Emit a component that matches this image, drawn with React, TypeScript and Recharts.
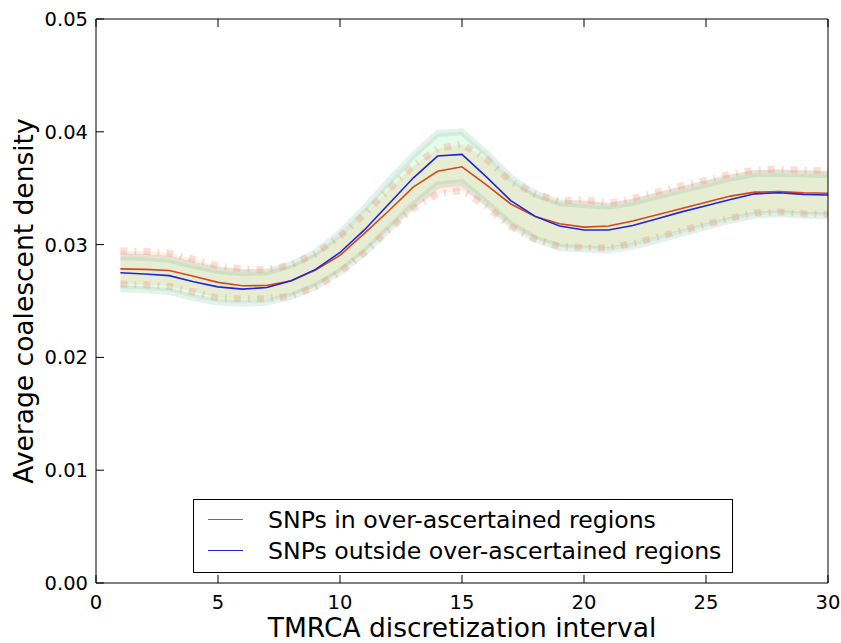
import React from 'react';
import { ComposedChart, Area, Line, XAxis, YAxis, Legend } from 'recharts';

// TMRCA discretization intervals
const intervals = [1, 2, 3, 4, 5, 6, 7, 8, 9, 10, 11, 12, 13, 14, 15, 16, 17, 18, 19, 20, 21, 22, 23, 24, 25, 26, 27, 28, 29, 30];

// SNPs in over-ascertained regions (mean + band)
const overMean = [0.02785, 0.0278, 0.0277, 0.0272, 0.02665, 0.02635, 0.02638, 0.0268, 0.02775, 0.02905, 0.031, 0.0330, 0.0351, 0.0365, 0.0369, 0.0353, 0.0336, 0.0325, 0.03185, 0.03155, 0.03165, 0.0321, 0.03265, 0.0332, 0.03375, 0.0343, 0.03465, 0.0347, 0.0346, 0.03455];
const overLo = [0.0265, 0.02645, 0.0263, 0.0258, 0.02525, 0.0252, 0.0252, 0.02545, 0.02625, 0.02755, 0.0293, 0.0313, 0.0332, 0.0345, 0.0348, 0.0334, 0.0316, 0.0305, 0.02985, 0.02975, 0.0297, 0.0301, 0.03065, 0.03125, 0.0318, 0.03235, 0.0328, 0.0329, 0.03275, 0.0327];
const overHi = [0.02945, 0.0294, 0.02925, 0.0287, 0.0281, 0.02785, 0.0278, 0.0282, 0.0292, 0.03075, 0.0327, 0.0349, 0.037, 0.0385, 0.0389, 0.0376, 0.0356, 0.0345, 0.03385, 0.034, 0.03365, 0.0341, 0.03465, 0.0352, 0.0357, 0.03625, 0.0366, 0.0367, 0.0366, 0.03655];

// SNPs outside over-ascertained regions (mean + band)
const outMean = [0.0275, 0.0274, 0.02725, 0.0267, 0.02625, 0.02605, 0.0262, 0.0268, 0.0278, 0.0293, 0.0313, 0.0336, 0.0359, 0.03785, 0.038, 0.036, 0.0339, 0.0325, 0.03165, 0.0313, 0.0313, 0.0317, 0.0323, 0.0329, 0.03345, 0.034, 0.0345, 0.0346, 0.03445, 0.0344];
const outLo = [0.02608, 0.026, 0.02585, 0.0253, 0.0249, 0.0248, 0.0249, 0.0254, 0.0263, 0.0276, 0.0293, 0.0314, 0.0335, 0.0353, 0.0355, 0.0337, 0.0318, 0.0305, 0.02975, 0.0296, 0.0295, 0.02985, 0.0304, 0.031, 0.0316, 0.03215, 0.0326, 0.03274, 0.0326, 0.03255];
const outHi = [0.02892, 0.02885, 0.0287, 0.02815, 0.0277, 0.0275, 0.0276, 0.0282, 0.0293, 0.031, 0.0332, 0.0356, 0.0379, 0.03985, 0.04, 0.0381, 0.0359, 0.0345, 0.0337, 0.03355, 0.0334, 0.03375, 0.0343, 0.03485, 0.03535, 0.0359, 0.0363, 0.03633, 0.03625, 0.0362];

const xTicks = [0, 5, 10, 15, 20, 25, 30];
const yTicks = [0, 0.01, 0.02, 0.03, 0.04, 0.05];

const seriesNames = ['SNPs in over-ascertained regions', 'SNPs outside over-ascertained regions'];

const data = intervals.map((x, i) => ({
  x,
  overMean: overMean[i],
  overLo: overLo[i],
  overHi: overHi[i],
  overBand: [overLo[i], overHi[i]],
  outMean: outMean[i],
  outLo: outLo[i],
  outHi: outHi[i],
  outBand: [outLo[i], outHi[i]],
}));

const FONT = '"DejaVu Sans", sans-serif';
const TICK = 8;

const BottomTick = ({ x, y, payload }: any) => (
  <g>
    <line x1={x} x2={x} y1={y} y2={y - TICK} stroke="#000" />
    <text x={x} y={y + 26} textAnchor="middle" fontSize={19.5} fontFamily={FONT} fill="#000">{payload.value}</text>
  </g>
);
const TopTick = ({ x, y }: any) => <line x1={x} x2={x} y1={y} y2={y + TICK} stroke="#000" />;
const LeftTick = ({ x, y, payload }: any) => (
  <g>
    <line x1={x} x2={x + TICK} y1={y} y2={y} stroke="#000" />
    <text x={x - 8} y={y + 7} textAnchor="end" fontSize={19.5} fontFamily={FONT} fill="#000">{Number(payload.value).toFixed(2)}</text>
  </g>
);
const RightTick = ({ x, y }: any) => <line x1={x} x2={x - TICK} y1={y} y2={y} stroke="#000" />;

const LegendBox = ({ payload }: any) => {
  const items = (payload || []).filter((p: any) => p.type !== 'none');
  return (
    <div style={{ boxSizing: 'border-box', width: 540, height: 74, border: '1px solid #000', background: '#fff', padding: '4px 0 0 14px', fontFamily: FONT }}>
      {items.map((p: any) => (
        <div key={p.value} style={{ display: 'flex', alignItems: 'center', height: 31 }}>
          <span style={{ display: 'inline-block', width: 35, height: 0, borderTop: `1.5px solid ${p.color}`, marginRight: 25 }} />
          <span style={{ fontSize: 23.6, color: '#000', whiteSpace: 'nowrap' }}>{p.value}</span>
        </div>
      ))}
    </div>
  );
};

export default function App() {
  return (
    <div style={{ position: 'absolute', left: 0, top: 0, width: 841, height: 643, background: '#fff' }}>
      <ComposedChart width={841} height={643} data={data} margin={{ top: 18, right: 12, left: 0, bottom: 0 }}>
        <XAxis
          dataKey="x" type="number" domain={[0, 30]} ticks={xTicks} height={60}
          axisLine={{ stroke: '#000' }} tickLine={false} tickSize={0} tickMargin={0} tick={<BottomTick />}
          label={(p: any) => {
            const vb = p.viewBox;
            return <text x={vb.x + vb.width / 2} y={637} textAnchor="middle" fontSize={26.5} fontFamily={FONT} fill="#000">TMRCA discretization interval</text>;
          }}
        />
        <XAxis xAxisId="top" orientation="top" dataKey="x" type="number" domain={[0, 30]} ticks={xTicks} height={1}
          axisLine={{ stroke: '#000' }} tickLine={false} tickSize={0} tickMargin={0} tick={<TopTick />} />
        <YAxis
          type="number" domain={[0, 0.05]} ticks={yTicks} width={96} allowDataOverflow
          axisLine={{ stroke: '#000' }} tickLine={false} tickSize={0} tickMargin={0} tick={<LeftTick />}
          label={(p: any) => {
            const vb = p.viewBox;
            const cy = vb.y + vb.height / 2;
            return <text x={33} y={cy} transform={`rotate(-90 33 ${cy})`} textAnchor="middle" fontSize={26.5} fontFamily={FONT} fill="#000">Average coalescent density</text>;
          }}
        />
        <YAxis yAxisId="right" orientation="right" type="number" domain={[0, 0.05]} ticks={yTicks} width={1}
          axisLine={{ stroke: '#000' }} tickLine={false} tickSize={0} tickMargin={0} tick={<RightTick />} />

        <Area dataKey="overBand" type="linear" fill="#ff9650" fillOpacity={0.16} stroke="none" legendType="none" isAnimationActive={false} />
        <Area dataKey="outBand" type="linear" fill="#3ce664" fillOpacity={0.13} stroke="none" legendType="none" isAnimationActive={false} />

        <Line dataKey="outHi" type="linear" stroke="#5a9a80" strokeOpacity={0.15} strokeWidth={7} dot={false} legendType="none" isAnimationActive={false} />
        <Line dataKey="outLo" type="linear" stroke="#5a9a80" strokeOpacity={0.15} strokeWidth={7} dot={false} legendType="none" isAnimationActive={false} />
        <Line dataKey="overHi" type="linear" stroke="#f08060" strokeOpacity={0.26} strokeWidth={7} strokeDasharray="7 7 2 7" dot={false} legendType="none" isAnimationActive={false} />
        <Line dataKey="overLo" type="linear" stroke="#f08060" strokeOpacity={0.26} strokeWidth={7} strokeDasharray="7 7 2 7" dot={false} legendType="none" isAnimationActive={false} />

        <Line dataKey="overMean" name={seriesNames[0]} type="linear" stroke="#d4481c" strokeWidth={1.6} dot={false} isAnimationActive={false} />
        <Line dataKey="outMean" name={seriesNames[1]} type="linear" stroke="#2323d8" strokeWidth={1.6} dot={false} isAnimationActive={false} />

        <Legend content={<LegendBox />} layout="horizontal" verticalAlign="middle" align="center"
          wrapperStyle={{ left: 193, top: 499, width: 540, bottom: 'auto' }} />
      </ComposedChart>
    </div>
  );
}
